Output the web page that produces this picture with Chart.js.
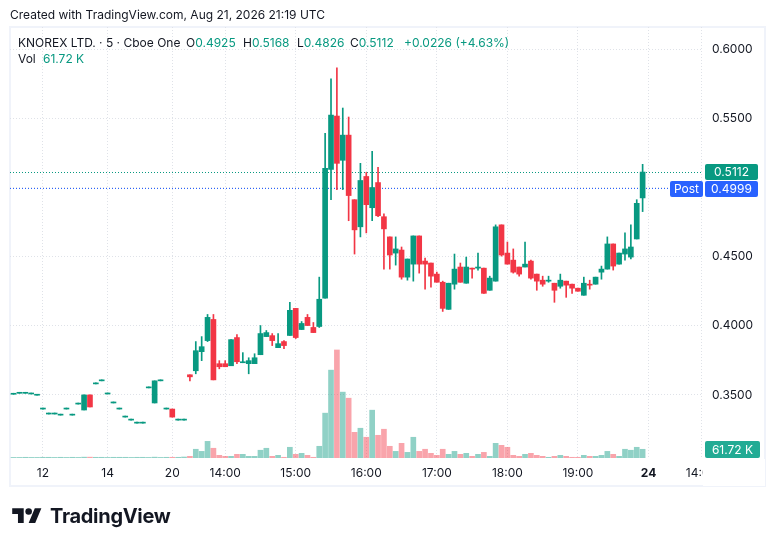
<!DOCTYPE html>
<html>
<head>
<meta charset="utf-8">
<script src="https://cdn.jsdelivr.net/npm/chart.js@4.4.1/dist/chart.umd.min.js"></script>
<style>
  html, body { margin: 0; padding: 0; background: #fff; }
  #wrap { position: relative; width: 776px; height: 546px; overflow: hidden;
          font-family: Inter, "Noto Sans", sans-serif; color: #131722; }
  #chart { position: absolute; left: 0; top: 0; }
  .txt { position: absolute; white-space: pre; font-size: 12px; line-height: 16px; }
  .up { color: #089981; }
  .brand { position: absolute; left: 50px; top: 503px; font-size: 20px; font-weight: 700;
           letter-spacing: -0.3px; line-height: 26px; }
</style>
</head>
<body>
<div id="wrap">
  <canvas id="chart" width="776" height="546"></canvas>
  <div class="txt" style="left:10px;top:7px;">Created with TradingView.com, Aug 21, 2026 21:19 UTC</div>
  <div class="txt" style="left:18px;top:35px;">KNOREX LTD. · 5 · Cboe One</div>
  <div class="txt" style="left:186px;top:35px;">O<span class="up">0.4925</span></div>
  <div class="txt" style="left:243px;top:35px;">H<span class="up">0.5168</span></div>
  <div class="txt" style="left:297px;top:35px;">L<span class="up">0.4826</span></div>
  <div class="txt" style="left:350px;top:35px;">C<span class="up">0.5112</span></div>
  <div class="txt up" style="left:404px;top:35px;">+0.0226 (+4.63%)</div>
  <div class="txt" style="left:18px;top:51px;">Vol</div>
  <div class="txt up" style="left:43px;top:51px;">61.72 K</div>
  <svg style="position:absolute;left:12px;top:505px;" width="30" height="23" viewBox="0 0 36 28">
    <path d="M14 22H7V11H0V4h14v18zm14 0h-8l7.5-18h8L28 22z" fill="#131722"/>
    <circle cx="20" cy="8" r="4" fill="#131722"/>
  </svg>
  <div class="brand">TradingView</div>
</div>
<script>
// bar slots: 29 sparse bars from earlier sessions, then 79 five-minute bars on the 21st
const opens = [
  0.3505, 0.3512, 0.3512, 0.3507, 0.3498, 0.3398, 0.3362, 0.3362, 0.3354, 0.3398,
  0.3354, 0.3434, 0.3391, 0.3500, 0.3580, 0.3602, 0.3507, 0.3442, 0.3398, 0.3340,
  0.3318, 0.3296, 0.3296, 0.3551, 0.3442, 0.3602, 0.3398, 0.3398, 0.3318,
  0.3318, 0.3646, 0.3675, 0.3813, 0.3893, 0.4046, 0.3726, 0.3726, 0.3711, 0.3915,
  0.3733, 0.3726, 0.3726, 0.3791, 0.3922, 0.3929, 0.3842, 0.3886, 0.3930, 0.4126,
  0.3973, 0.4061, 0.3988, 0.3995, 0.4199, 0.5131, 0.5517, 0.5197, 0.5379, 0.4912,
  0.4716, 0.5080, 0.4854, 0.5036, 0.4789, 0.4643, 0.4526, 0.4548, 0.4352, 0.4446,
  0.4650, 0.4468, 0.4454, 0.4374, 0.4315, 0.4119, 0.4301, 0.4425, 0.4308, 0.4417,
  0.4417, 0.4417, 0.4257, 0.4323, 0.4730, 0.4526, 0.4475, 0.4425, 0.4425, 0.4468,
  0.4374, 0.4330, 0.4323, 0.4308, 0.4286, 0.4323, 0.4301, 0.4272, 0.4221, 0.4301,
  0.4301, 0.4388, 0.4410, 0.4592, 0.4446, 0.4519, 0.4497, 0.4628, 0.4925
];
const highs = [
  0.3505, 0.3512, 0.3512, 0.3507, 0.3498, 0.3398, 0.3362, 0.3362, 0.3354, 0.3398,
  0.3354, 0.3434, 0.3500, 0.3500, 0.3580, 0.3602, 0.3507, 0.3442, 0.3398, 0.3340,
  0.3318, 0.3296, 0.3296, 0.3551, 0.3602, 0.3602, 0.3398, 0.3398, 0.3318,
  0.3318, 0.3646, 0.3886, 0.3922, 0.4082, 0.4082, 0.3748, 0.3748, 0.3900, 0.3937,
  0.3806, 0.3769, 0.3798, 0.4002, 0.3966, 0.3944, 0.3944, 0.3893, 0.4170, 0.4126,
  0.4031, 0.4082, 0.4024, 0.4352, 0.5392, 0.5786, 0.5866, 0.5575, 0.5510, 0.4912,
  0.5175, 0.5109, 0.5262, 0.5146, 0.4810, 0.4643, 0.4643, 0.4570, 0.4483, 0.4650,
  0.4650, 0.4490, 0.4454, 0.4388, 0.4323, 0.4308, 0.4519, 0.4454, 0.4497, 0.4417,
  0.4526, 0.4417, 0.4359, 0.4730, 0.4730, 0.4606, 0.4556, 0.4425, 0.4606, 0.4475,
  0.4374, 0.4359, 0.4359, 0.4308, 0.4374, 0.4323, 0.4301, 0.4272, 0.4352, 0.4330,
  0.4352, 0.4432, 0.4643, 0.4592, 0.4526, 0.4672, 0.4730, 0.4912, 0.5168
];
const lows = [
  0.3505, 0.3512, 0.3512, 0.3507, 0.3498, 0.3398, 0.3362, 0.3362, 0.3354, 0.3398,
  0.3354, 0.3434, 0.3391, 0.3413, 0.3580, 0.3602, 0.3507, 0.3442, 0.3398, 0.3340,
  0.3318, 0.3296, 0.3296, 0.3551, 0.3442, 0.3602, 0.3398, 0.3340, 0.3318,
  0.3318, 0.3602, 0.3653, 0.3748, 0.3886, 0.3609, 0.3689, 0.3704, 0.3711, 0.3726,
  0.3733, 0.3653, 0.3726, 0.3791, 0.3922, 0.3857, 0.3842, 0.3835, 0.3930, 0.3908,
  0.3973, 0.4002, 0.3951, 0.3988, 0.4199, 0.4912, 0.4985, 0.4985, 0.4760, 0.4519,
  0.4643, 0.4672, 0.4760, 0.4789, 0.4410, 0.4410, 0.4439, 0.4337, 0.4330, 0.4323,
  0.4381, 0.4265, 0.4279, 0.4315, 0.4104, 0.4119, 0.4265, 0.4315, 0.4308, 0.4345,
  0.4403, 0.4235, 0.4257, 0.4323, 0.4504, 0.4446, 0.4381, 0.4359, 0.4425, 0.4337,
  0.4257, 0.4286, 0.4315, 0.4170, 0.4272, 0.4206, 0.4235, 0.4250, 0.4221, 0.4265,
  0.4301, 0.4337, 0.4410, 0.4403, 0.4446, 0.4475, 0.4483, 0.4628, 0.4826
];
const closes = [
  0.3505, 0.3512, 0.3512, 0.3507, 0.3498, 0.3398, 0.3362, 0.3362, 0.3354, 0.3398,
  0.3354, 0.3434, 0.3500, 0.3413, 0.3580, 0.3602, 0.3507, 0.3442, 0.3398, 0.3340,
  0.3318, 0.3296, 0.3296, 0.3551, 0.3602, 0.3602, 0.3398, 0.3340, 0.3318,
  0.3318, 0.3631, 0.3820, 0.3849, 0.4061, 0.3609, 0.3704, 0.3704, 0.3900, 0.3740,
  0.3740, 0.3748, 0.3769, 0.3944, 0.3951, 0.3893, 0.3871, 0.3857, 0.4112, 0.3915,
  0.4017, 0.4002, 0.3951, 0.4192, 0.5138, 0.5524, 0.5175, 0.5379, 0.4942, 0.4694,
  0.5051, 0.4876, 0.5000, 0.4796, 0.4701, 0.4512, 0.4556, 0.4352, 0.4483, 0.4650,
  0.4446, 0.4446, 0.4359, 0.4315, 0.4126, 0.4308, 0.4410, 0.4315, 0.4425, 0.4410,
  0.4425, 0.4235, 0.4345, 0.4716, 0.4512, 0.4446, 0.4388, 0.4374, 0.4446, 0.4345,
  0.4323, 0.4301, 0.4330, 0.4257, 0.4330, 0.4294, 0.4272, 0.4250, 0.4308, 0.4294,
  0.4352, 0.4410, 0.4592, 0.4432, 0.4526, 0.4556, 0.4570, 0.4886, 0.5112
];
// volume in thousands of shares
const volumes = [
  4, 4, 5, 4, 4, 5, 5, 4, 5, 4,
  5, 4, 6, 6, 5, 5, 4, 5, 5, 5,
  4, 5, 5, 4, 6, 4, 5, 5, 5,
  7, 12, 62, 47, 118, 69, 19, 12, 12, 26,
  26, 12, 12, 55, 69, 12, 19, 5, 76, 26,
  33, 19, 5, 83, 318, 623, 766, 467, 424, 182,
  211, 147, 339, 161, 204, 83, 47, 104, 40, 147,
  47, 62, 33, 19, 62, 26, 47, 26, 33, 12,
  26, 40, 12, 104, 90, 76, 19, 12, 26, 33,
  19, 12, 5, 12, 19, 12, 5, 5, 19, 12,
  12, 19, 47, 26, 12, 62, 55, 76, 61.72
];
const tickSlots = [5, 16, 27, 36, 48, 60, 72, 84, 96, 108, 117];
const tickLabels = ['12', '14', '20', '14:00', '15:00', '16:00', '17:00', '18:00', '19:00', '24', '14:00'];
const priceTicks = [0.35, 0.40, 0.45, 0.50, 0.55, 0.60];
const postPrice = 0.4999;
const lastVolumeLabel = '61.72 K';

const UP = '#089981', DOWN = '#f23645';
const UP_VOL = 'rgba(8,153,129,0.45)', DOWN_VOL = 'rgba(242,54,69,0.45)';
const FONT = 'Inter, "Noto Sans", sans-serif';

const isUp = closes.map((c, i) => c >= opens[i]);
const bodies = closes.map((c, i) => ({ x: i, y: [opens[i], c] }));
const wicks = closes.map((c, i) => ({ x: i, y: [lows[i], highs[i]] }));
const vols = volumes.map((v, i) => ({ x: i, y: v }));
const lastClose = closes[closes.length - 1];

function roundRect(ctx, x, y, w, h, r) {
    ctx.beginPath();
    ctx.moveTo(x + r, y);
    ctx.arcTo(x + w, y, x + w, y + h, r);
    ctx.arcTo(x + w, y + h, x, y + h, r);
    ctx.arcTo(x, y + h, x, y, r);
    ctx.arcTo(x, y, x + w, y, r);
    ctx.closePath();
}

function boxLabel(ctx, x, y, w, h, bg, text) {
    ctx.fillStyle = bg;
    roundRect(ctx, x, y, w, h, 2);
    ctx.fill();
    ctx.fillStyle = '#ffffff';
    ctx.font = '12px ' + FONT;
    ctx.textAlign = 'center';
    ctx.textBaseline = 'middle';
    ctx.fillText(text, x + w / 2, y + h / 2 + 0.5);
}

const overlay = {
    id: 'overlay',
    beforeDraw(chart) {
        const ctx = chart.ctx;
        ctx.save();
        ctx.strokeStyle = '#f0f3fa';
        ctx.lineWidth = 2;
        ctx.strokeRect(10, 27, 755, 459);
        ctx.restore();
    },
    beforeDatasetsDraw(chart) {
        const ctx = chart.ctx, area = chart.chartArea, y = chart.scales.y;
        ctx.save();
        ctx.lineWidth = 1;
        ctx.setLineDash([1, 2]);
        [[lastClose, UP], [postPrice, '#2962ff']].forEach(([v, col]) => {
            const py = Math.round(y.getPixelForValue(v)) + 0.5;
            ctx.strokeStyle = col;
            ctx.beginPath();
            ctx.moveTo(area.left, py);
            ctx.lineTo(area.right, py);
            ctx.stroke();
        });
        ctx.restore();
    },
    afterDraw(chart) {
        const ctx = chart.ctx, area = chart.chartArea, y = chart.scales.y;
        ctx.save();
        // time labels stop at the price scale
        ctx.fillStyle = '#ffffff';
        ctx.fillRect(area.right + 1, area.bottom + 1, 62, 27);

        const lastY = y.getPixelForValue(lastClose);
        const lastTop = lastY - 8;
        boxLabel(ctx, area.right + 3, lastTop, 53, 16, UP, lastClose.toFixed(4));
        const postTop = Math.max(y.getPixelForValue(postPrice) - 8, lastTop + 17);
        boxLabel(ctx, area.right - 32, postTop, 33, 16, '#2962ff', 'Post');
        boxLabel(ctx, area.right + 3, postTop, 53, 16, '#2962ff', postPrice.toFixed(4));
        boxLabel(ctx, area.right + 3, area.bottom - 17, 55, 17, '#22ab94', lastVolumeLabel);
        ctx.restore();
    }
};

new Chart(document.getElementById('chart'), {
    type: 'bar',
    data: {
        datasets: [
            {
                data: bodies,
                yAxisID: 'y',
                backgroundColor: isUp.map(u => u ? UP : DOWN),
                barThickness: 5,
                minBarLength: 1,
                grouped: false,
                order: 0
            },
            {
                data: wicks,
                yAxisID: 'y',
                backgroundColor: isUp.map(u => u ? UP : DOWN),
                barThickness: 1,
                minBarLength: 1,
                grouped: false,
                order: 1
            },
            {
                data: vols,
                yAxisID: 'vol',
                backgroundColor: isUp.map(u => u ? UP_VOL : DOWN_VOL),
                barThickness: 5,
                grouped: false,
                order: 2
            }
        ]
    },
    options: {
        responsive: false,
        animation: false,
        layout: { padding: { left: 10, top: 27, right: 11, bottom: 60 } },
        plugins: {
            legend: { display: false },
            tooltip: { enabled: false }
        },
        scales: {
            x: {
                type: 'linear',
                offset: false,
                min: -0.6,
                max: 117.1,
                afterBuildTicks: s => { s.ticks = tickSlots.map(v => ({ value: v })); },
                afterFit: s => { s.height = 28; },
                grid: { color: '#dfe2e8', drawTicks: false, offset: false },
                border: { display: false, dash: [1, 2] },
                ticks: {
                    autoSkip: false,
                    maxRotation: 0,
                    padding: 8,
                    color: '#131722',
                    font: c => ({ family: FONT, size: 12, weight: c.tick && c.tick.label === '24' ? 'bold' : 'normal' }),
                    callback: v => tickLabels[tickSlots.indexOf(v)] || ''
                }
            },
            y: {
                position: 'right',
                min: 0.3044,
                max: 0.6161,
                afterBuildTicks: s => { s.ticks = priceTicks.map(v => ({ value: v })); },
                afterFit: s => { s.width = 63; },
                grid: { color: '#dfe2e8', drawTicks: false },
                border: { display: false, dash: [1, 2] },
                ticks: {
                    padding: 10,
                    color: '#131722',
                    font: { family: FONT, size: 12 },
                    callback: v => v.toFixed(4)
                }
            },
            vol: {
                display: false,
                min: 0,
                max: 3056
            }
        }
    },
    plugins: [overlay]
});
</script>
</body>
</html>
